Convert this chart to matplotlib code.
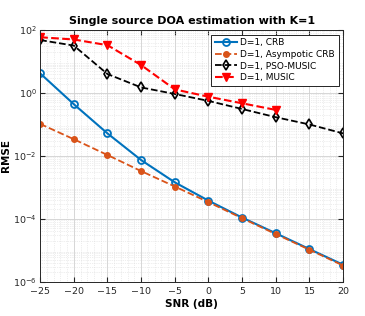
import matplotlib.pyplot as plt
import numpy as np
from matplotlib.ticker import LogLocator, AutoMinorLocator, NullFormatter

snr = [-25, -20, -15, -10, -5, 0, 5, 10, 15, 20]
snr_music = [-25, -20, -15, -10, -5, 0, 5, 10]

crb = [4.2, 0.44, 0.052, 0.0074, 1.45e-3, 3.8e-4, 1.1e-4, 3.5e-5, 1.1e-5, 3.5e-6]
asym_crb = [0.104, 0.034, 0.0107, 3.3e-3, 1.07e-3, 3.4e-4, 1.05e-4, 3.3e-5, 1.05e-5, 3.3e-6]
pso_music = [48, 32, 4.0, 1.5, 0.93, 0.56, 0.31, 0.17, 0.10, 0.052]
music = [59, 50, 33, 7.7, 1.3, 0.76, 0.47, 0.29]

fig = plt.figure(figsize=(3.65, 3.16), dpi=100)
ax = fig.add_axes([0.11, 0.108, 0.83, 0.797])

ax.plot(snr, crb, '-o', color='#0072BD', lw=1.5, ms=5, mfc='none', mew=1.3,
        label='D=1, CRB')
ax.plot(snr, asym_crb, '--o', color='#D95319', lw=1.3, ms=4, mfc='#D95319',
        label='D=1, Asympotic CRB')
ax.plot(snr, pso_music, '--d', color='black', lw=1.3, ms=5, mfc='none', mew=1.2,
        label='D=1, PSO-MUSIC')
ax.plot(snr_music, music, '--v', color='red', lw=1.5, ms=6, mfc='red',
        label='D=1, MUSIC')

ax.set_yscale('log')
ax.set_xlim(-25, 20)
ax.set_ylim(1e-6, 1e2)
ax.set_xticks(range(-25, 21, 5))
ax.set_yticks([1e-6, 1e-4, 1e-2, 1e0, 1e2])
ax.yaxis.set_minor_locator(LogLocator(base=10, subs=np.arange(2, 10), numticks=20))
ax.yaxis.set_minor_formatter(NullFormatter())
ax.xaxis.set_minor_locator(AutoMinorLocator(5))
ax.tick_params(which='both', direction='in', top=True, right=True, labelsize=6.8,
               colors='#262626', pad=2.5)
ax.tick_params(axis='x', pad=4)
ax.tick_params(which='minor', length=0)
for s in ax.spines.values():
    s.set_color('#262626')
    s.set_linewidth(0.7)

ax.grid(True, which='major', color='#d0d0d0', lw=0.6)
ax.grid(True, which='minor', color='#dcdcdc', lw=0.5, ls=':')
ax.set_axisbelow(True)

ax.set_xlabel('SNR (dB)', fontsize=7.5, fontweight='bold', labelpad=2)
ax.set_ylabel('RMSE', fontsize=7.5, fontweight='bold')
ax.yaxis.set_label_coords(-0.095, 0.5)
ax.set_title('Single source DOA estimation with K=1', fontsize=8, fontweight='bold', pad=4)

leg = ax.legend(loc='upper right', fontsize=6.5, fancybox=False, framealpha=1,
                edgecolor='black', handlelength=2.4, handletextpad=0.4,
                borderpad=0.4, labelspacing=0.3)
leg.get_frame().set_linewidth(0.6)

fig.savefig('out.png', dpi=100)
